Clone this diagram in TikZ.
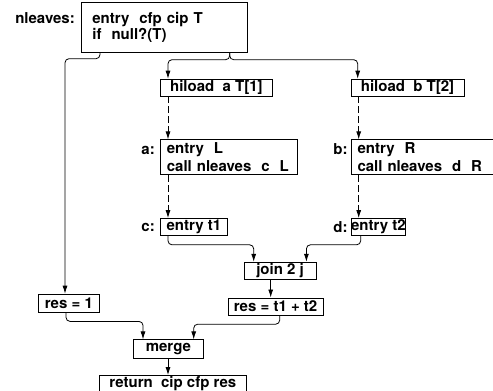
\documentclass[tikz,border=0pt]{standalone}
\usepackage{fontspec}
\setmainfont{TeX Gyre Heros}
\usetikzlibrary{arrows.meta,positioning}

\begin{document}
\begin{tikzpicture}[
  node distance=6pt,
  stmt/.style={draw,line width=0.7pt,inner sep=0pt,minimum height=17pt,font=\fontsize{15}{14}\selectfont\bfseries},
  codebox/.style={stmt,align=left,inner xsep=6.5pt},
  tag/.style={inner sep=0pt,font=\fontsize{15}{14}\selectfont\bfseries},
  flow/.style={-{Latex[length=8pt,width=5pt]},line width=0.8pt,rounded corners=4pt},
  callflow/.style={flow,dash pattern=on 7pt off 3pt}]
  \useasboundingbox (0pt,0pt) rectangle (493pt,-391pt);
  \clip (0pt,0pt) rectangle (493pt,-391pt);
  \node[codebox,anchor=north west,inner xsep=11pt,text width=144pt,minimum height=50pt] (top) at (81pt,-2pt) {entry\ \ cfp cip T\\if\ \ null?(T)};
  \node[tag,left=6pt of top.north west,anchor=base east,yshift=-21pt] (toplab) {nleaves:};
  \node[stmt,below right=26pt and 79pt of top.south west,anchor=north west,minimum width=112pt] (ha) {hiload\ \ a T[1]};
  \node[stmt,right=78pt of ha.north east,anchor=north west,minimum width=113pt] (hb) {hiload\ \ b T[2]};
  \node[codebox,below=43pt of ha.south west,anchor=north west,text width=124pt,minimum height=35pt] (ca) {entry\ \ L\\[3pt]call nleaves\ \ c\ \ L};
  \node[codebox,below=43pt of hb.south west,anchor=north west,text width=140pt,minimum height=35pt] (cb) {entry\ \ R\\[3pt]call nleaves\ \ d\ \ R};
  \node[tag,left=5pt of ca.north west,anchor=base east,yshift=-15pt] (calab) {a:};
  \node[tag,left=3pt of cb.north west,anchor=base east,yshift=-15pt] (cblab) {b:};
  \node[stmt,below=43pt of ca.south west,anchor=north west,minimum width=67pt] (ec) {entry t1};
  \node[stmt,below=43pt of cb.south west,anchor=north west,minimum width=51pt] (ed) {entry t2};
  \node[tag,left=5pt of ec.west] (eclab) {c:};
  \node[tag,left=3pt of ed.west] (edlab) {d:};
  \node[stmt,below right=26pt and 16pt of ec.south east,anchor=north west,minimum width=72pt] (jn) {join 2 j};
  \node[stmt,below left=18pt and 16pt of jn.south west,anchor=north west,minimum width=95pt] (rs) {res = t1 + t2};
  \node[stmt,below left=241pt and 43pt of top.south west,anchor=north west,minimum width=61pt,minimum height=18pt] (r1) {res = 1};
  \node[stmt,below right=27pt and 95pt of r1.south west,anchor=north west,minimum width=70pt,minimum height=19pt] (mg) {merge};
  \node[stmt,below left=16pt and 34pt of mg.south west,anchor=north west,minimum width=147pt,minimum height=16pt] (rt) {return\ \ cip cfp res};
  \draw[flow] ([xshift=19pt]top.south west) -- ++(0,-6pt) -| ([xshift=27pt]r1.north west);
  \draw[flow] ([xshift=-18pt]top.south east) -- ++(0,-7pt) -| ([xshift=8pt]ha.north west);
  \draw[flow] ([xshift=-18pt]top.south east) -- ++(0,-7pt) -| ([xshift=7pt]hb.north west);
  \draw[callflow] ([xshift=8pt]ha.south west) -- ([xshift=8pt]ca.north west);
  \draw[callflow] ([xshift=8pt]ca.south west) -- ([xshift=8pt]ec.north west);
  \draw[callflow] ([xshift=8pt]hb.south west) -- ([xshift=8pt]cb.north west);
  \draw[callflow] ([xshift=8pt]cb.south west) -- ([xshift=8pt]ed.north west);
  \draw[flow] ([xshift=8pt]ec.south west) -- ++(0,-9pt) -| ([xshift=10pt]jn.north west);
  \draw[flow] ([xshift=10pt]ed.south west) -- ++(0,-9pt) -| ([xshift=-10pt]jn.north east);
  \draw[flow] ([xshift=27pt]jn.south west) -- ([xshift=43pt]rs.north west);
  \draw[flow] ([xshift=28pt]r1.south west) -- ++(0,-9pt) -| ([xshift=10pt]mg.north west);
  \draw[flow] ([xshift=52pt]rs.south west) -- ++(0,-9pt) -| ([xshift=-10pt]mg.north east);
  \draw[flow] ([xshift=35pt]mg.south west) -- ([xshift=69pt]rt.north west);
\end{tikzpicture}
\end{document}
